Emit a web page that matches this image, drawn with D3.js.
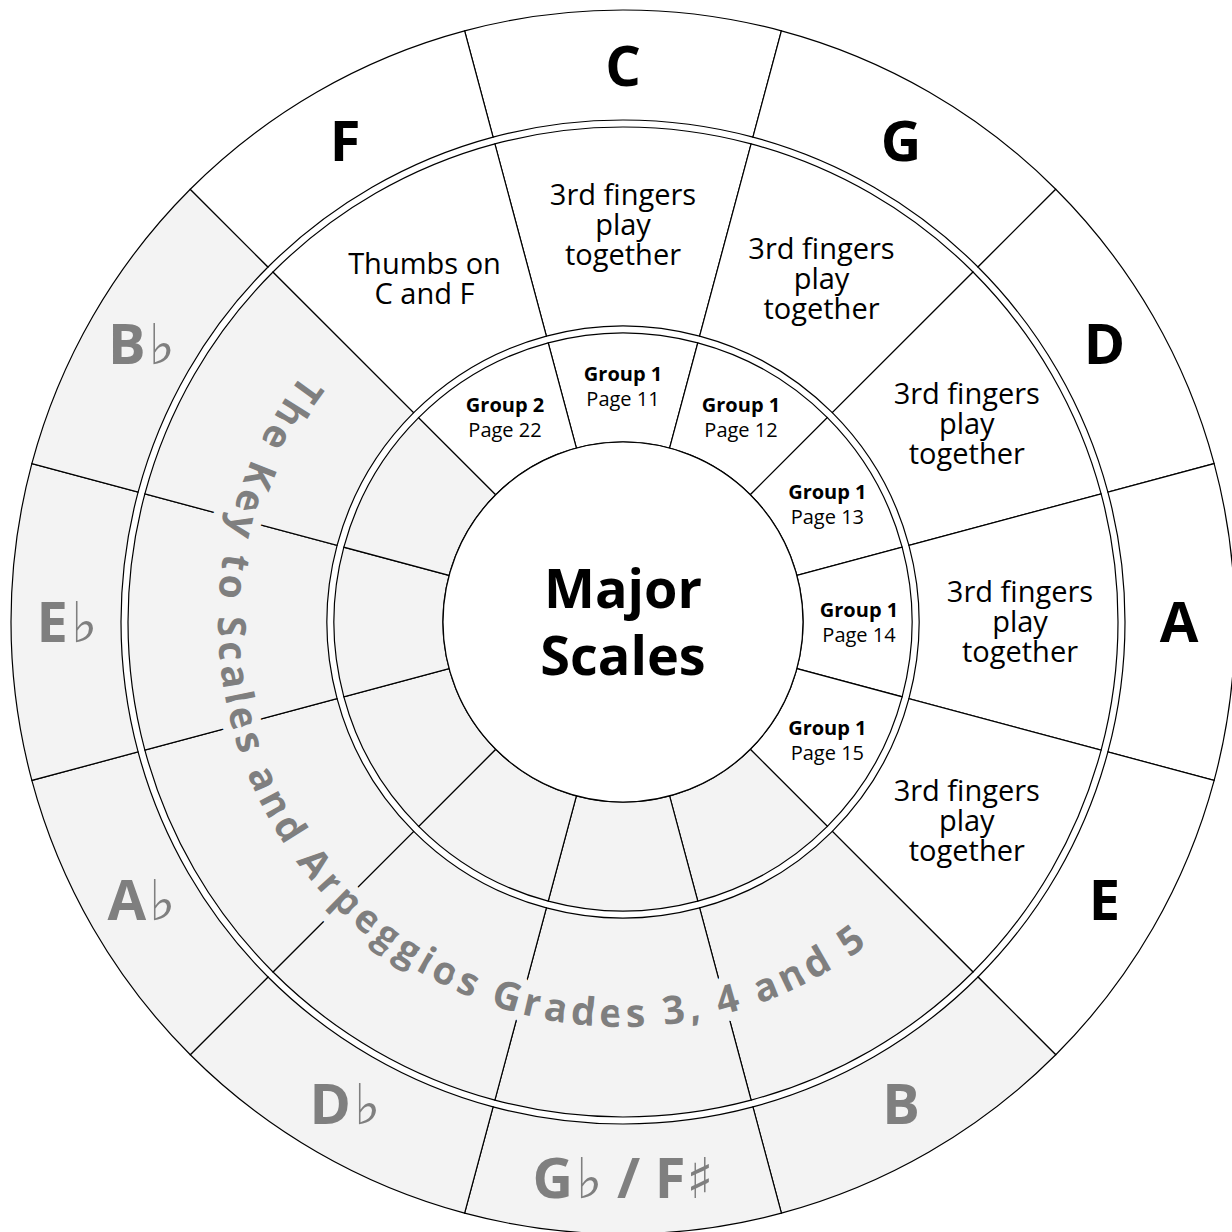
<!DOCTYPE html>
<html>
<head>
<meta charset="utf-8">
<script src="https://cdn.jsdelivr.net/npm/d3@7"></script>
<style>
body { margin: 0; background: #fff; }
svg { display: block; font-family: "Open Sans", sans-serif; }
</style>
</head>
<body>
<script>
// keys round the circle, clockwise from the top
var keys = ["C", "G", "D", "A", "E", "B", "G♭ / F♯", "D♭", "A♭", "E♭", "B♭", "F"];
var shaded = [0, 0, 0, 0, 0, 1, 1, 1, 1, 1, 1, 0];
var fingering = [
	["3rd fingers", "play", "together"],
	["3rd fingers", "play", "together"],
	["3rd fingers", "play", "together"],
	["3rd fingers", "play", "together"],
	["3rd fingers", "play", "together"],
	[], [], [], [], [], [],
	["Thumbs on", "C and F"]
];
var groups = ["Group 1", "Group 1", "Group 1", "Group 1", "Group 1", "", "", "", "", "", "", "Group 2"];
var pages = ["Page 11", "Page 12", "Page 13", "Page 14", "Page 15", "", "", "", "", "", "", "Page 22"];
var title = ["Major", "Scales"];
var subtitle = "The Key to Scales and Arpeggios Grades 3, 4 and 5";

var w = 1232, h = 1232;
var cx = 623, cy = 622;
var grey = "#f3f3f3", greyText = "#7f7f7f";

// ring radii
var outer = [502, 612], middle = [296, 495], inner = [180, 289];

var svg = d3.select("body").append("svg")
	.attr("width", w)
	.attr("height", h);

var g = svg.append("g")
	.attr("transform", "translate(" + cx + "," + cy + ")");

var pie = d3.pie().value(1).sort(null)
	.startAngle(-Math.PI / 12)
	.endAngle(2 * Math.PI - Math.PI / 12);
var slices = pie(keys);

function drawRing(radii) {
	var arc = d3.arc().innerRadius(radii[0]).outerRadius(radii[1]);
	g.append("g").selectAll("path")
		.data(slices)
		.enter()
		.append("path")
		.attr("d", arc)
		.attr("fill", function(d) { return shaded[d.index] ? grey : "#fff"; })
		.attr("stroke", "#000")
		.attr("stroke-width", 1.2);
}
drawRing(outer);
drawRing(middle);
drawRing(inner);

g.append("circle")
	.attr("r", inner[0])
	.attr("fill", "#fff")
	.attr("stroke", "#000")
	.attr("stroke-width", 1.2);

function pos(d, r) {
	var a = (d.startAngle + d.endAngle) / 2;
	return [r * Math.sin(a), -r * Math.cos(a)];
}

//curved title along the shaded half
var rText = 405;
function pt(deg) {
	var a = deg * Math.PI / 180;
	return [rText * Math.sin(a), -rText * Math.cos(a)];
}
svg.append("defs").append("path")
	.attr("id", "subtitlePath")
	.attr("d", "M" + pt(325) + "A" + rText + "," + rText + " 0 1 0 " + pt(125));

var sub = g.append("text")
	.attr("font-size", 39)
	.attr("font-weight", 700)
	.attr("fill", greyText)
	.attr("stroke", grey)
	.attr("stroke-width", 18)
	.attr("stroke-linejoin", "round")
	.attr("paint-order", "stroke");
sub.append("textPath")
	.attr("href", "#subtitlePath")
	.attr("startOffset", "50%")
	.attr("text-anchor", "middle")
	.text(subtitle);
var natural = sub.node().getComputedTextLength();
var targetLen = 1165;
sub.attr("letter-spacing", (targetLen - natural) / (subtitle.length - 1));

// key names in the outer ring
var keyText = g.append("g").selectAll("text")
	.data(slices)
	.enter()
	.append("text")
	.attr("x", function(d) { return pos(d, 556)[0]; })
	.attr("y", function(d) { return pos(d, 556)[1]; })
	.attr("dy", "0.36em")
	.attr("text-anchor", "middle")
	.attr("font-size", 56)
	.attr("font-weight", 700)
	.attr("fill", function(d) { return shaded[d.index] ? greyText : "#000"; });

keyText.each(function(d) {
	var t = d3.select(this);
	d.data.split(/([♭♯])/).forEach(function(part) {
		if (part === "") return;
		var span = t.append("tspan").text(part);
		if (part === "♭" || part === "♯") {
			span.attr("font-weight", 400)
				.attr("font-family", "DejaVu Sans")
				.attr("dx", part === "♭" ? 3 : 1);
		}
	});
});

// fingering notes in the middle ring
g.append("g").selectAll("text")
	.data(slices)
	.enter()
	.append("text")
	.attr("text-anchor", "middle")
	.attr("font-size", 29)
	.attr("fill", "#000")
	.each(function(d) {
		var lines = fingering[d.index];
		var p = pos(d, 397);
		var t = d3.select(this);
		lines.forEach(function(line, i) {
			t.append("tspan")
				.attr("x", p[0])
				.attr("y", p[1] + (i - (lines.length - 1) / 2) * 30)
				.attr("dy", "0.36em")
				.text(line);
		});
	});

// group and page in the inner ring
g.append("g").selectAll("text")
	.data(slices.filter(function(d) { return groups[d.index] !== ""; }))
	.enter()
	.append("text")
	.attr("text-anchor", "middle")
	.attr("font-size", 20)
	.attr("fill", "#000")
	.each(function(d) {
		var p = pos(d, 236);
		var t = d3.select(this);
		t.append("tspan")
			.attr("x", p[0])
			.attr("y", p[1] - 12.5)
			.attr("dy", "0.36em")
			.attr("font-weight", 700)
			.text(groups[d.index]);
		t.append("tspan")
			.attr("x", p[0])
			.attr("y", p[1] + 12.5)
			.attr("dy", "0.36em")
			.text(pages[d.index]);
	});

// centre title
g.append("text")
	.attr("text-anchor", "middle")
	.attr("font-size", 54)
	.attr("font-weight", 700)
	.attr("fill", "#000")
	.selectAll("tspan")
	.data(title)
	.enter()
	.append("tspan")
	.attr("x", 0)
	.attr("y", function(d, i) { return (i - 0.5) * 67; })
	.attr("dy", "0.36em")
	.text(function(d) { return d; });
</script>
</body>
</html>
